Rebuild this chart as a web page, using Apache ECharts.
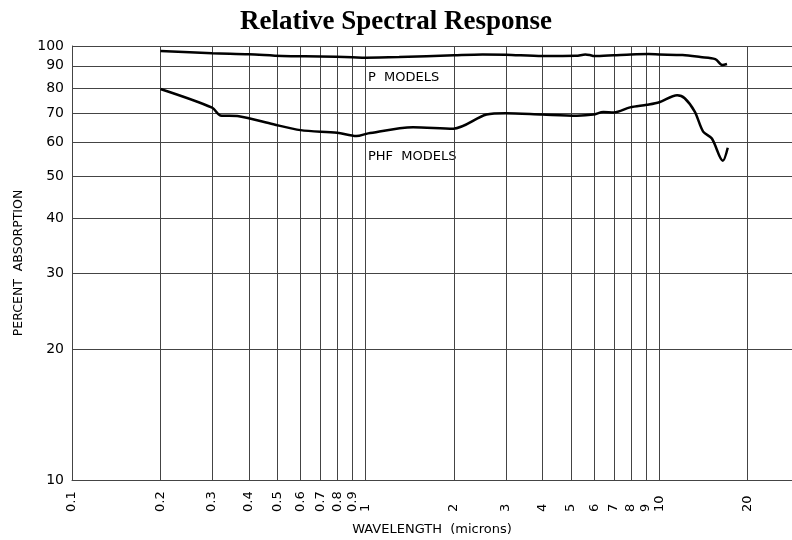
<!DOCTYPE html>
<html>
<head>
<meta charset="utf-8">
<script src="https://cdn.jsdelivr.net/npm/echarts@6/dist/echarts.min.js"></script>
<style>
  html, body { margin: 0; padding: 0; background: #fff; }
  #chart { width: 792px; height: 540px; }
</style>
</head>
<body>
<div id="chart"></div>
<script>
// 刻度
const xTicks = [0.1, 0.2, 0.3, 0.4, 0.5, 0.6, 0.7, 0.8, 0.9, 1, 2, 3, 4, 5, 6, 7, 8, 9, 10, 20];
const yTicks = [10, 20, 30, 40, 50, 60, 70, 80, 90, 100];
const xMin = 0.1, xMax = 28.3;
const yMin = 10, yMax = 100;

// P MODELS 曲线 [波长, 吸收率]
const pModels = [
  [0.2, 97.4], [0.3, 96.2], [0.4, 95.7], [0.52, 94.8], [0.7, 94.6], [0.9, 94.2],
  [1, 94.0], [1.3, 94.3], [2, 95.2], [2.5, 95.6], [3, 95.5], [4, 94.8], [5.2, 94.9],
  [5.6, 95.6], [5.8, 95.3], [6.0, 94.8], [7, 95.2], [8, 95.6], [9.2, 95.8], [10, 95.6],
  [12, 95.3], [13.8, 94.3], [15.5, 93.3], [16.4, 90.4], [17, 90.9]
];

// PHF MODELS 曲线
const phfModels = [
  [0.2, 79.6], [0.3, 72.1], [0.32, 69.2], [0.37, 68.9], [0.485, 66.0], [0.6, 64.0],
  [0.8, 63.1], [0.93, 62.0], [1.02, 62.9], [1.45, 65.0], [1.99, 64.5], [2.58, 69.5],
  [3.0, 70.0], [4.0, 69.5], [5.24, 69.1], [5.96, 69.5], [6.45, 70.5], [7.0, 70.3],
  [7.95, 72.2], [9.07, 73.2], [10, 74.2], [11.5, 77.0], [12.2, 75.8], [13.2, 70.6],
  [14.1, 63.5], [15.1, 61.2], [16.45, 54.4], [17.1, 58.3]
];

const labelFont = 'DejaVu Sans';
const gridColor = '#444';

// 值轴上用对数位置画网格和刻度
const labelOf = (ticks) => (v) => {
  const t = ticks.find(k => Math.abs(Math.log10(k) - v) < 1e-6);
  return t === undefined ? '' : String(t);
};

const chart = echarts.init(document.getElementById('chart'), null, { renderer: 'canvas' });

chart.setOption({
  animation: false,
  backgroundColor: '#fff',
  title: {
    text: 'Relative Spectral Response',
    left: 'center',
    top: 4,
    textStyle: { fontFamily: 'Liberation Serif', fontWeight: 'bold', fontSize: 27, color: '#000' }
  },
  grid: { left: 72, right: 0, top: 46, bottom: 60, outerBoundsMode: 'none', containLabel: false },
  xAxis: [
    {
      type: 'log', logBase: 10, min: xMin, max: xMax,
      axisLine: { show: false }, axisTick: { show: false },
      axisLabel: { show: false }, splitLine: { show: false }
    },
    {
      type: 'value', position: 'bottom',
      min: Math.log10(xMin), max: Math.log10(xMax),
      name: 'WAVELENGTH  (microns)', nameLocation: 'middle', nameGap: 43,
      nameTextStyle: { fontFamily: labelFont, fontSize: 13, color: '#000' },
      axisLine: { show: true, lineStyle: { color: gridColor, width: 1 } },
      axisTick: { show: false, customValues: xTicks.map(Math.log10) },
      axisLabel: {
        customValues: xTicks.map(Math.log10),
        formatter: labelOf(xTicks),
        rotate: 90, margin: 32, align: 'left', verticalAlign: 'middle',
        fontFamily: labelFont, fontSize: 13, color: '#000'
      },
      splitLine: { show: true, lineStyle: { color: gridColor, width: 1 } }
    }
  ],
  yAxis: [
    {
      type: 'log', logBase: 10, min: yMin, max: yMax,
      axisLine: { show: false }, axisTick: { show: false },
      axisLabel: { show: false }, splitLine: { show: false }
    },
    {
      type: 'value', position: 'left',
      min: Math.log10(yMin), max: Math.log10(yMax),
      name: 'PERCENT  ABSORPTION', nameLocation: 'middle', nameGap: 47,
      nameTextStyle: { fontFamily: labelFont, fontSize: 12.5, color: '#000' },
      axisLine: { show: true, lineStyle: { color: gridColor, width: 1 } },
      axisTick: { show: false, customValues: yTicks.map(Math.log10) },
      axisLabel: {
        customValues: yTicks.map(Math.log10),
        formatter: labelOf(yTicks),
        margin: 8,
        fontFamily: labelFont, fontSize: 14, color: '#000'
      },
      splitLine: { show: true, lineStyle: { color: gridColor, width: 1 } }
    }
  ],
  graphic: [
    { type: 'text', left: 368, top: 71, style: { text: 'P  MODELS', font: '13px "DejaVu Sans"', fill: '#000' } },
    { type: 'text', left: 368, top: 150, style: { text: 'PHF  MODELS', font: '13px "DejaVu Sans"', fill: '#000' } }
  ],
  series: [
    {
      name: 'P MODELS', type: 'line', xAxisIndex: 0, yAxisIndex: 0,
      data: pModels, smooth: 0.3, showSymbol: false,
      lineStyle: { color: '#000', width: 2.5 }, z: 5
    },
    {
      name: 'PHF MODELS', type: 'line', xAxisIndex: 0, yAxisIndex: 0,
      data: phfModels, smooth: 0.3, showSymbol: false,
      lineStyle: { color: '#000', width: 2.5 }, z: 5
    }
  ]
});
</script>
</body>
</html>
